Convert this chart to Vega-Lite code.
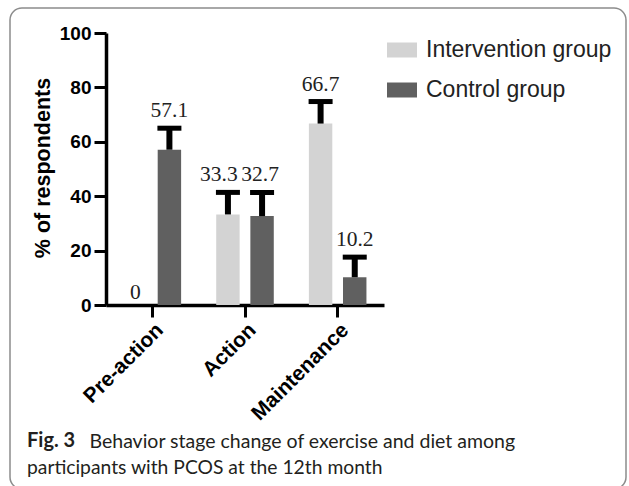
{
  "$schema": "https://vega.github.io/schema/vega-lite/v6.json",
  "width": 616,
  "height": 481,
  "autosize": {"type": "none"},
  "padding": {"left": 10, "top": 8, "right": 3, "bottom": -3},
  "background": "white",
  "config": {
    "view": {"stroke": "#8c8c8c", "strokeWidth": 1.5, "cornerRadius": 12},
    "font": "Liberation Sans"
  },
  "title": {
    "text": "Fig. 3",
    "subtitle": "participants with PCOS at the 12th month",
    "orient": "bottom",
    "anchor": "start",
    "frame": "group",
    "offset": -58,
    "dx": 17,
    "font": "Lato",
    "fontSize": 20,
    "fontWeight": "bold",
    "color": "#231f20",
    "subtitleFont": "Lato",
    "subtitleFontSize": 19.3,
    "subtitleFontWeight": "normal",
    "subtitleColor": "#231f20",
    "subtitlePadding": 8,
    "baseline": "top"
  },
  "data": {
    "values": [
      {"stage": "Pre-action", "group": "Intervention group", "value": 0, "upper": 0},
      {"stage": "Pre-action", "group": "Control group", "value": 57.1, "upper": 65},
      {"stage": "Action", "group": "Intervention group", "value": 33.3, "upper": 41.4},
      {"stage": "Action", "group": "Control group", "value": 32.7, "upper": 41.4},
      {"stage": "Maintenance", "group": "Intervention group", "value": 66.7, "upper": 74.8},
      {"stage": "Maintenance", "group": "Control group", "value": 10.2, "upper": 17.6}
    ]
  },
  "encoding": {
    "x": {
      "field": "stage",
      "type": "nominal",
      "sort": ["Pre-action", "Action", "Maintenance"],
      "scale": {"range": [96, 374], "paddingInner": 0, "paddingOuter": -0.037},
      "axis": {
        "title": "Behavior stage change of exercise and diet among",
        "titleFont": "Lato",
        "titleFontWeight": "normal",
        "titleFontSize": 19.5,
        "titleColor": "#231f20",
        "titleX": 79,
        "titleY": 142,
        "titleAlign": "left",
        "titleBaseline": "alphabetic",
        "titleAngle": 0,
        "titleLimit": 0,
        "offset": -184,
        "labelAngle": -45,
        "labelFont": "Liberation Sans",
        "labelFontWeight": "bold",
        "labelFontSize": 21,
        "labelColor": "black",
        "labelPadding": 2,
        "tickSize": 12,
        "tickWidth": 3,
        "tickColor": "black",
        "domainColor": "black",
        "domainWidth": 3.5,
        "grid": false
      }
    },
    "xOffset": {
      "field": "group",
      "type": "nominal",
      "sort": ["Intervention group", "Control group"],
      "scale": {"paddingInner": 0.314, "paddingOuter": 0.514}
    }
  },
  "layer": [
    {
      "mark": {"type": "bar"},
      "encoding": {
        "y": {
          "field": "value",
          "type": "quantitative",
          "scale": {"domain": [0, 100], "range": [297, 25], "nice": false, "zero": true},
          "axis": {
            "title": "% of respondents",
            "values": [0, 20, 40, 60, 80, 100],
            "offset": -96,
            "titleX": -57,
            "titleY": 159.5,
            "titleAlign": "center",
            "titleBaseline": "alphabetic",
            "titleAngle": -90,
            "titleFont": "Liberation Sans",
            "titleFontWeight": "bold",
            "titleFontSize": 21.5,
            "titleColor": "black",
            "labelFont": "Liberation Sans",
            "labelFontWeight": "bold",
            "labelFontSize": 19,
            "labelColor": "black",
            "labelPadding": 3,
            "tickSize": 12,
            "tickWidth": 3,
            "tickColor": "black",
            "domainColor": "black",
            "domainWidth": 3.5,
            "grid": false
          }
        },
        "color": {
          "field": "group",
          "type": "nominal",
          "sort": ["Intervention group", "Control group"],
          "scale": {"range": ["#d3d3d3", "#606060"]},
          "legend": {
            "title": null,
            "orient": "none",
            "legendX": 377,
            "legendY": 27,
            "direction": "vertical",
            "padding": 0,
            "symbolType": "M-1,-0.5L1,-0.5L1,0.5L-1,0.5Z",
            "symbolSize": 900,
            "symbolStrokeWidth": 0,
            "symbolOpacity": 1,
            "labelFont": "Liberation Sans",
            "labelFontSize": 23,
            "labelColor": "#222222",
            "labelOffset": 9,
            "labelLimit": 0,
            "rowPadding": 13
          }
        }
      }
    },
    {
      "transform": [{"filter": "datum.upper > datum.value"}],
      "mark": {"type": "rule", "strokeWidth": 6, "color": "black"},
      "encoding": {
        "y": {"field": "value", "type": "quantitative"},
        "y2": {"field": "upper"}
      }
    },
    {
      "transform": [{"filter": "datum.upper > datum.value"}],
      "mark": {"type": "tick", "thickness": 5, "size": 24, "color": "black", "opacity": 1},
      "encoding": {
        "y": {"field": "upper", "type": "quantitative"}
      }
    },
    {
      "transform": [{"filter": "datum.stage != 'Action' && datum.value > 0"}],
      "mark": {"type": "text", "font": "Liberation Serif", "fontSize": 21.5, "dy": -11, "baseline": "alphabetic", "color": "#222222"},
      "encoding": {
        "y": {"field": "upper", "type": "quantitative"},
        "text": {"field": "value", "type": "quantitative"}
      }
    },
    {
      "transform": [{"filter": "datum.value == 0"}],
      "mark": {"type": "text", "font": "Liberation Serif", "fontSize": 21.5, "dy": -6, "baseline": "alphabetic", "color": "#222222"},
      "encoding": {
        "y": {"field": "upper", "type": "quantitative"},
        "text": {"field": "value", "type": "quantitative"}
      }
    },
    {
      "transform": [{"filter": "datum.stage == 'Action' && datum.group == 'Intervention group'"}],
      "mark": {"type": "text", "font": "Liberation Serif", "fontSize": 21.5, "dy": -11, "dx": -9, "baseline": "alphabetic", "color": "#222222"},
      "encoding": {
        "y": {"field": "upper", "type": "quantitative"},
        "text": {"field": "value", "type": "quantitative"}
      }
    },
    {
      "transform": [{"filter": "datum.stage == 'Action' && datum.group == 'Control group'"}],
      "mark": {"type": "text", "font": "Liberation Serif", "fontSize": 21.5, "dy": -11, "dx": -2, "baseline": "alphabetic", "color": "#222222"},
      "encoding": {
        "y": {"field": "upper", "type": "quantitative"},
        "text": {"field": "value", "type": "quantitative"}
      }
    }
  ]
}
